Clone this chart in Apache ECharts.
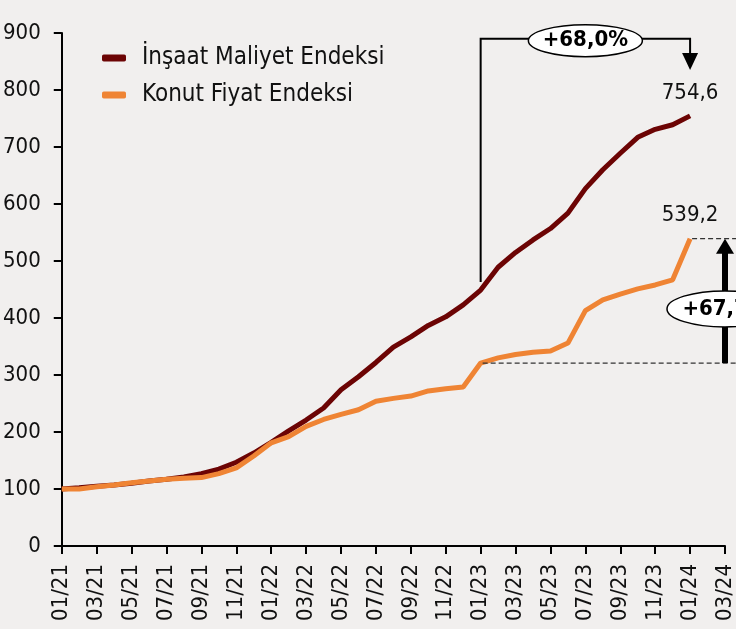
<!DOCTYPE html>
<html>
<head>
<meta charset="utf-8">
<script src="https://cdn.jsdelivr.net/npm/echarts@6/dist/echarts.min.js"></script>
<style>
html,body{margin:0;padding:0;background:#f1efee;}
#c{width:736px;height:629px;}
</style>
</head>
<body>
<div id="c"></div>
<script>
var months = ['01/21','02/21','03/21','04/21','05/21','06/21','07/21','08/21','09/21','10/21','11/21','12/21',
  '01/22','02/22','03/22','04/22','05/22','06/22','07/22','08/22','09/22','10/22','11/22','12/22',
  '01/23','02/23','03/23','04/23','05/23','06/23','07/23','08/23','09/23','10/23','11/23','12/23',
  '01/24','02/24','03/24'];
var insaatMaliyet = [100,102,105,107,110,114,117,121,127,135,147,163,
  182,202,221,242,274,297,322,349,367,387,402,423,
  449,489,515,537,557,584,627,660,689,717,731,739,754.6];
var konutFiyat = [100,100,104,107,111,114,117,119,120,127,137,158,
  181,192,210,222,231,239,254,259,263,272,276,279,
  321,330,336,340,342,356,413,432,442,451,458,467,539.2];
var seriesNames = ['İnşaat Maliyet Endeksi','Konut Fiyat Endeksi'];
var yTicks = {min:0, max:900, interval:100};
var changeLabels = ['+68,0%','+67,7%'];
var lastLabels = ['754,6','539,2'];

var FONT = '"DejaVu Sans Condensed","DejaVu Sans",sans-serif';
var DARK = '#6c0404';
var ORANGE = '#ef8434';

function lastMark(arr, lbl){
  var i = arr.length-1;
  return {
    symbol:'circle', symbolSize:0, silent:true,
    label:{show:true, position:'top', distance:12, formatter:lbl,
      fontFamily:FONT, fontSize:22, color:'#111'},
    data:[{coord:[i, arr[i]], value:arr[i]}]
  };
}

var chart = echarts.init(document.getElementById('c'), null, {renderer:'canvas'});
chart.setOption({
  animation:false,
  backgroundColor:'#f1efee',
  grid:{left:61, right:9, top:33, bottom:83, containLabel:false},
  legend:{
    orient:'vertical', left:97, top:40,
    icon:'roundRect', itemWidth:24, itemHeight:7, itemGap:11,
    textStyle:{fontFamily:FONT, fontSize:24, color:'#111', lineHeight:26, padding:[0,0,0,11]},
    data:seriesNames
  },
  xAxis:{
    type:'category', data:months, boundaryGap:false,
    axisLine:{lineStyle:{color:'#000', width:2}},
    axisTick:{interval:1, length:8, lineStyle:{color:'#000', width:2}},
    axisLabel:{interval:1, rotate:90, margin:18, fontFamily:FONT, fontSize:22, color:'#111'},
    splitLine:{show:false}
  },
  yAxis:{
    type:'value', min:yTicks.min, max:yTicks.max, interval:yTicks.interval,
    axisLine:{show:true, lineStyle:{color:'#000', width:2}},
    axisTick:{show:true, length:8, lineStyle:{color:'#000', width:2}},
    axisLabel:{margin:21, fontFamily:FONT, fontSize:22, color:'#111'},
    splitLine:{show:false}
  },
  series:[
    {name:seriesNames[0], type:'line', data:insaatMaliyet, showSymbol:false, symbol:'none',
     lineStyle:{color:DARK, width:5}, itemStyle:{color:DARK}, z:3, markPoint:lastMark(insaatMaliyet, lastLabels[0])},
    {name:seriesNames[1], type:'line', data:konutFiyat, showSymbol:false, symbol:'none',
     lineStyle:{color:ORANGE, width:5}, itemStyle:{color:ORANGE}, z:4, markPoint:lastMark(konutFiyat, lastLabels[1])}
  ]
});

function px(i, v){ return chart.convertToPixel({xAxisIndex:0, yAxisIndex:0}, [i, v]); }
var iStart = 24, iEnd = insaatMaliyet.length-1, iRight = months.length-1;
var W = 736;
var pA0 = px(iStart, insaatMaliyet[iStart]);
var pA1 = px(iEnd, insaatMaliyet[iEnd]);
var topY = px(iStart, 890)[1];
var tipY = px(iEnd, 835)[1];
var xS = pA0[0], xE = pA1[0];
var pK0 = px(iStart, konutFiyat[iStart]);
var pK1 = px(iEnd, konutFiyat[iEnd]);
var xR = px(iRight, 0)[0];
var ellRy = px(0, 416)[1];

var g = [
  {type:'polyline', shape:{points:[[xS, pA0[1]-8],[xS, topY],[xE, topY],[xE, tipY-16]]},
   style:{stroke:'#000', lineWidth:2, fill:null}, z:10},
  {type:'polygon', shape:{points:[[xE-8, tipY-17],[xE+8, tipY-17],[xE, tipY]]}, style:{fill:'#000'}, z:10},
  {type:'ellipse', shape:{cx:(xS+xE)/2, cy:topY+2, rx:57, ry:16}, style:{fill:'#fff', stroke:'#000', lineWidth:1.5}, z:11},
  {type:'text', x:(xS+xE)/2, y:topY+2, style:{text:changeLabels[0], fontFamily:FONT, fontSize:22, fontWeight:'bold',
    fill:'#000', align:'center', verticalAlign:'middle'}, z:12},
  {type:'line', shape:{x1:pK0[0]+2, y1:pK0[1], x2:W, y2:pK0[1]}, style:{stroke:'#333', lineWidth:1.2, lineDash:[5,3]}, z:9},
  {type:'line', shape:{x1:pK1[0]+2, y1:pK1[1], x2:W, y2:pK1[1]}, style:{stroke:'#333', lineWidth:1.2, lineDash:[5,3]}, z:9},
  {type:'line', shape:{x1:xR, y1:pK0[1], x2:xR, y2:pK1[1]+14}, style:{stroke:'#000', lineWidth:6}, z:10},
  {type:'polygon', shape:{points:[[xR-9, pK1[1]+15],[xR+9, pK1[1]+15],[xR, pK1[1]]]}, style:{fill:'#000'}, z:10},
  {type:'ellipse', shape:{cx:xR, cy:ellRy, rx:58, ry:18}, style:{fill:'#fff', stroke:'#000', lineWidth:1.5}, z:11},
  {type:'text', x:xR, y:ellRy, style:{text:changeLabels[1], fontFamily:FONT, fontSize:22, fontWeight:'bold',
    fill:'#000', align:'center', verticalAlign:'middle'}, z:12}
];
chart.setOption({graphic:g});
</script>
</body>
</html>
